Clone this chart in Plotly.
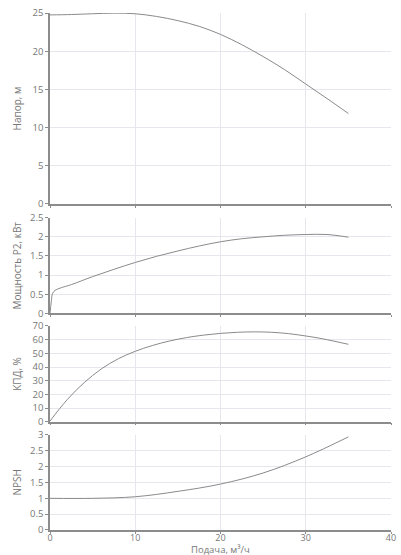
import plotly.graph_objects as go
from plotly.subplots import make_subplots

# Data
q_head = [0, 2.5, 5, 7.5, 10, 12.5, 15, 17.5, 20, 22.5, 25, 27.5, 30, 32.5, 35]
head = [24.75, 24.8, 24.9, 24.98, 24.9, 24.55, 24.0, 23.25, 22.2, 20.85, 19.3, 17.6, 15.7, 13.8, 11.85]

q_power = [0, 0.15, 0.3, 0.6, 1.2, 2.5, 5, 7.5, 10, 12.5, 15, 17.5, 20, 22.5, 25, 27.5, 30, 32.5, 35]
power = [0, 0.3, 0.52, 0.6, 0.66, 0.75, 0.96, 1.15, 1.33, 1.49, 1.63, 1.76, 1.87, 1.95, 2.0, 2.04, 2.06, 2.06, 1.99]

q_eff = [0, 2, 4, 6, 8, 10, 12, 14, 16, 18, 20, 22, 24, 26, 28, 30, 32, 35]
eff = [0.5, 16, 28.5, 38.5, 46, 51.5, 55.7, 59, 61.5, 63.3, 64.6, 65.4, 65.7, 65.4, 64.4, 62.7, 60.6, 56.6]

q_npsh = [0, 5, 10, 15, 20, 25, 30, 35]
npsh = [1.0, 1.0, 1.05, 1.22, 1.45, 1.8, 2.31, 2.94]

y_titles = ["Напор, м", "Мощность P2, кВт", "КПД, %", "NPSH"]
y_ranges = [[0, 25], [0, 2.5], [0, 70], [0, 3]]
y_dticks = [5, 0.5, 10, 0.5]
x_title = "Подача, м³/ч"
x_range = [0, 40]
x_dtick = 10

series = [(q_head, head), (q_power, power), (q_eff, eff), (q_npsh, npsh)]
domains = [[0.6306, 1.0], [0.4191, 0.6041], [0.2095, 0.3946], [0.0, 0.1838]]

line_col = "#8a8a8a"
grid_col = "#e6e6ec"
axis_col = "#8c8c8c"
text_col = "#777777"

fig = make_subplots(rows=4, cols=1, shared_xaxes=False)

for i, (xs, ys) in enumerate(series):
    fig.add_trace(go.Scatter(x=xs, y=ys, mode="lines",
                             line=dict(color=line_col, width=1, shape="spline", smoothing=1.0),
                             hoverinfo="skip", showlegend=False), row=i + 1, col=1)
    xa = "xaxis" if i == 0 else f"xaxis{i+1}"
    ya = "yaxis" if i == 0 else f"yaxis{i+1}"
    fig.layout[ya].update(domain=domains[i], range=y_ranges[i], dtick=y_dticks[i], tick0=0,
                          showgrid=True, gridcolor=grid_col, gridwidth=1,
                          showline=True, linecolor=axis_col, linewidth=1.5,
                          ticks="outside", ticklen=3, tickcolor=axis_col,
                          zeroline=False, tickfont=dict(size=9.5, color=text_col),
                          automargin=False, fixedrange=True)
    fig.layout[xa].update(range=x_range, dtick=x_dtick, tick0=0,
                          showgrid=True, gridcolor=grid_col, gridwidth=1,
                          showline=True, linecolor=axis_col, linewidth=1.5,
                          ticks="outside", ticklen=2, tickcolor=axis_col,
                          zeroline=False, showticklabels=(i == 3),
                          ticklabelstandoff=-4, automargin=False,
                          tickfont=dict(size=9, color=text_col), fixedrange=True)
    fig.add_annotation(text=y_titles[i], xref="paper", yref="paper",
                       x=0, y=(domains[i][0] + domains[i][1]) / 2,
                       xanchor="center", yanchor="middle", xshift=-33,
                       textangle=-90, showarrow=False,
                       font=dict(size=10, color=text_col))

fig.add_annotation(text=x_title, xref="paper", yref="paper", x=0.5, y=0,
                   xanchor="center", yanchor="bottom", yshift=-27, showarrow=False,
                   borderpad=0, font=dict(size=9.5, color=text_col))

fig.update_layout(width=401, height=555,
                  margin=dict(l=50, r=10, t=13, b=25, autoexpand=False),
                  paper_bgcolor="white", plot_bgcolor="white",
                  font=dict(family="Open Sans", size=10, color=text_col))

fig.write_html("out.html", config={"displayModeBar": False})
